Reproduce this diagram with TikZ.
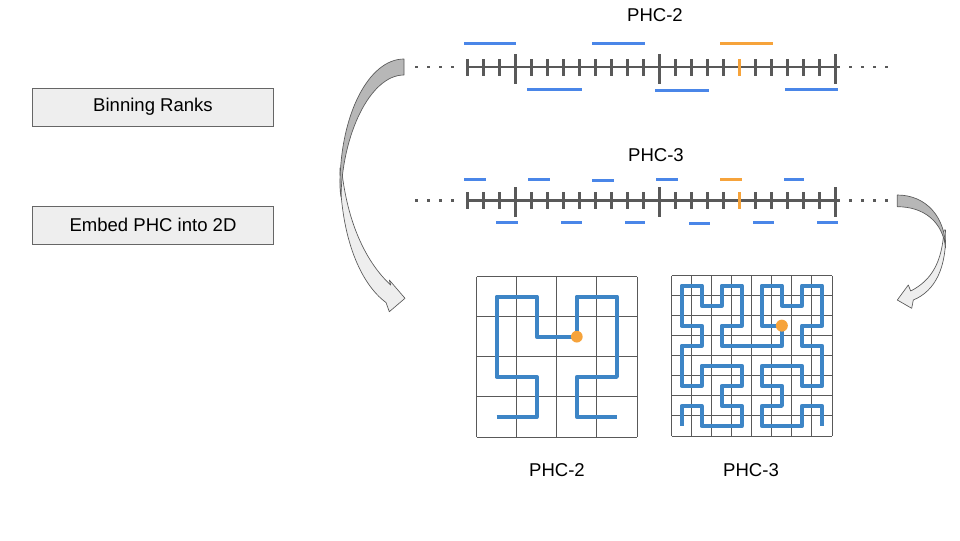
\documentclass[tikz,border=0pt]{standalone}
\usepackage{fontspec}
\setmainfont{Liberation Sans}
\definecolor{axisgray}{HTML}{595959}
\definecolor{bblue}{HTML}{4A86E8}
\definecolor{cblue}{HTML}{3D85C6}
\definecolor{orng}{HTML}{F6A33B}
\definecolor{boxfill}{HTML}{EEEEEE}
\definecolor{boxedge}{HTML}{666666}
\definecolor{darkarrow}{HTML}{B7B7B7}
\definecolor{lightarrow}{HTML}{EEEEEE}
\definecolor{arrowedge}{HTML}{595959}
\begin{document}
\begin{tikzpicture}[x=0.75pt,y=-0.75pt,
  lbl/.style={font=\fontsize{13.9}{16}\selectfont, inner sep=0pt},
  stepbox/.style={draw=boxedge, fill=boxfill, line width=0.65pt, minimum width=180.75pt, minimum height=28.5pt, inner sep=0pt, font=\fontsize{13.9}{16}\selectfont},
  axisline/.style={draw=axisgray, line width=2.2pt},
  tickline/.style={draw=axisgray, line width=2.2pt},
  dotline/.style={draw=axisgray, line width=2pt, dash pattern=on 2pt off 7pt},
  bar/.style={draw=bblue, line width=2.3pt},
  obar/.style={draw=orng, line width=2.3pt},
  gridline/.style={draw=axisgray, line width=0.75pt},
  curve/.style={draw=cblue, line width=3pt, line join=round},
  odot/.style={fill=orng},
  backpart/.style={fill=darkarrow, draw=arrowedge, line width=0.5pt, line join=round},
  frontpart/.style={fill=lightarrow, draw=arrowedge, line width=0.5pt, line join=round}
]
\useasboundingbox (0,0) rectangle (960,540);

% titles
\node[lbl] (t2) at (655,15) {PHC-2};
\node[lbl] (t3) at (656,155) {PHC-3};
\node[lbl] (b2) at (557,470) {PHC-2};
\node[lbl] (b3) at (751,470) {PHC-3};

% left boxes
\node[stepbox] (bin) at (153,107) {Binning Ranks};
\node[stepbox] (emb) at (153,225) {Embed PHC into 2D};

% axes
\foreach \ay in {67,200.3}{
  \draw[dotline] (415.3,\ay) -- (463,\ay);
  \draw[dotline] (837.3,\ay) -- (888,\ay);
  \draw[axisline] (466,\ay) -- (836.6,\ay);
  \foreach \k in {0,...,23}{
    \pgfmathsetmacro\tx{467.3+16*\k}
    \ifnum\k=17
      \draw[tickline,draw=orng] (\tx,\ay-8) -- (\tx,\ay+9);
    \else\ifnum\k=3
      \draw[tickline] (\tx,\ay-13) -- (\tx,\ay+17);
    \else\ifnum\k=12
      \draw[tickline] (\tx,\ay-13) -- (\tx,\ay+17);
    \else\ifnum\k=23
      \draw[tickline] (\tx,\ay-13) -- (\tx,\ay+17);
    \else
      \draw[tickline] (\tx,\ay-8) -- (\tx,\ay+9);
    \fi\fi\fi\fi
  }
}

% PHC-2 bins
\draw[bar] (464.3,43.3) -- (516.3,43.3);
\draw[bar] (592,43.3) -- (644.7,43.3);
\draw[obar] (720,43.3) -- (772.7,43.3);
\draw[bar] (527.3,89.3) -- (581.7,89.3);
\draw[bar] (655.3,90.3) -- (709.3,90.3);
\draw[bar] (785.3,89.3) -- (837.7,89.3);

% PHC-3 bins
\draw[bar] (464.3,179.3) -- (485.7,179.3);
\draw[bar] (528.3,179.3) -- (549.7,179.3);
\draw[bar] (592.3,180.3) -- (613.7,180.3);
\draw[bar] (656,179.3) -- (677.7,179.3);
\draw[obar] (720,179.3) -- (741.7,179.3);
\draw[bar] (784,179.3) -- (804.3,179.3);
\draw[bar] (496.3,222.3) -- (517.7,222.3);
\draw[bar] (561,222.3) -- (581.7,222.3);
\draw[bar] (625.3,222.3) -- (645.3,222.3);
\draw[bar] (689.3,223.3) -- (710.3,223.3);
\draw[bar] (753.3,222.3) -- (773.7,222.3);
\draw[bar] (817.3,222.3) -- (837.7,222.3);

% PHC-2 grid
\foreach \i in {0,...,4}{
  \draw[gridline] (476.5+40.125*\i,276.5) -- (476.5+40.125*\i,437);
  \draw[gridline] (476.5,276.5+40.125*\i) -- (637,276.5+40.125*\i);
}
\begin{scope}[shift={(476.5,276.5)}, x=30.09375pt, y=-30.09375pt]
  \draw[curve] (0.5,3.5) -- (1.5,3.5) -- (1.5,2.5) -- (0.5,2.5) -- (0.5,0.5) -- (1.5,0.5) -- (1.5,1.5) -- (2.5,1.5) -- (2.5,0.5) -- (3.5,0.5) -- (3.5,2.5) -- (2.5,2.5) -- (2.5,3.5) -- (3.5,3.5);
  \fill[odot] (2.5,1.5) circle[radius=4.4pt];
\end{scope}

% PHC-3 grid
\foreach \i in {0,...,8}{
  \draw[gridline] (671.5+20.0625*\i,275.5) -- (671.5+20.0625*\i,436);
  \draw[gridline] (671.5,275.5+20.0625*\i) -- (832,275.5+20.0625*\i);
}
\begin{scope}[shift={(671.5,275.5)}, x=15.046875pt, y=-15.046875pt]
  \draw[curve] (0.5,7.5) -- (0.5,6.5) -- (1.5,6.5) -- (1.5,7.5) -- (3.5,7.5) -- (3.5,6.5) -- (2.5,6.5) -- (2.5,5.5) -- (3.5,5.5) -- (3.5,4.5) -- (1.5,4.5) -- (1.5,5.5) -- (0.5,5.5)
    -- (0.5,3.5) -- (1.5,3.5) -- (1.5,2.5) -- (0.5,2.5) -- (0.5,0.5) -- (1.5,0.5) -- (1.5,1.5) -- (2.5,1.5) -- (2.5,0.5) -- (3.5,0.5) -- (3.5,2.5) -- (2.5,2.5) -- (2.5,3.5)
    -- (5.5,3.5) -- (5.5,2.5) -- (4.5,2.5) -- (4.5,0.5) -- (5.5,0.5) -- (5.5,1.5) -- (6.5,1.5) -- (6.5,0.5) -- (7.5,0.5) -- (7.5,2.5) -- (6.5,2.5) -- (6.5,3.5) -- (7.5,3.5)
    -- (7.5,5.5) -- (6.5,5.5) -- (6.5,4.5) -- (4.5,4.5) -- (4.5,5.5) -- (5.5,5.5) -- (5.5,6.5) -- (4.5,6.5) -- (4.5,7.5) -- (6.5,7.5) -- (6.5,6.5) -- (7.5,6.5) -- (7.5,7.5);
  \fill[odot] (5.5,2.5) circle[radius=4.5pt];
\end{scope}

% left curved arrow
\path[frontpart] (340,168) .. controls (340,240) and (362,285) .. (386,302.5)
  -- (389.3,311.7) -- (405,298.3) -- (389.3,280) -- (390.7,285)
  .. controls (372,268) and (348,232) .. (341.5,168) -- cycle;
\path[backpart] (404,59) .. controls (368.7,59) and (340,115) .. (340,185)
  .. controls (340,190) and (340.5,194) .. (341,197)
  .. controls (342,135) and (370,75) .. (404,75) -- cycle;

% right curved arrow
\path[frontpart] (945.5,230) .. controls (947,268) and (935,291) .. (913.3,300)
  -- (911.7,308.3) -- (897.3,300) -- (908.3,285) -- (910.7,291)
  .. controls (932,280) and (942,262) .. (944,230) -- cycle;
\path[backpart] (897.3,195) .. controls (926,195) and (945.5,217) .. (945.5,248)
  .. controls (943,222) and (924,206.7) .. (897.3,206.7) -- cycle;
\end{tikzpicture}
\end{document}
